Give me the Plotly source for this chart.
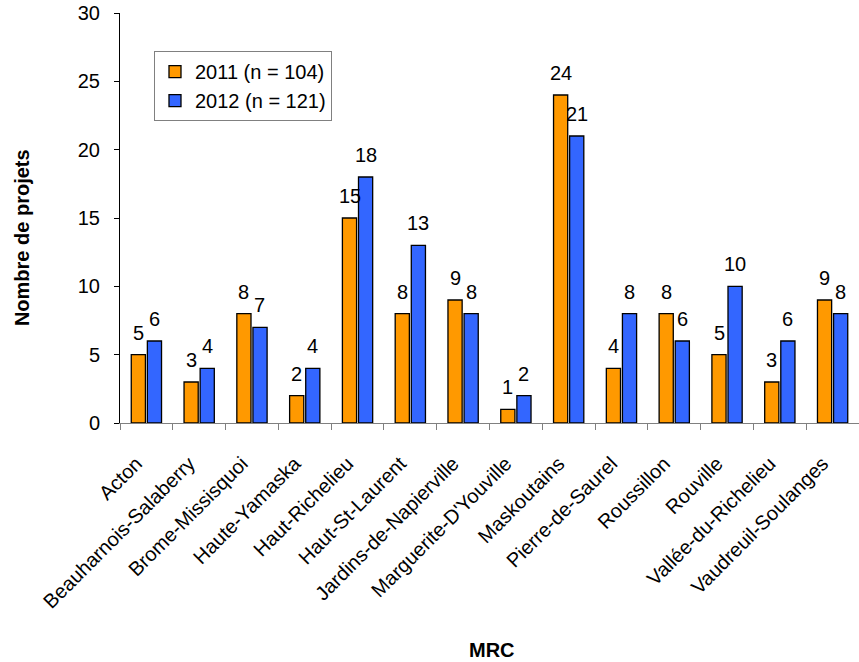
import plotly.graph_objects as go

categories = ["Acton", "Beauharnois-Salaberry", "Brome-Missisquoi", "Haute-Yamaska",
              "Haut-Richelieu", "Haut-St-Laurent", "Jardins-de-Napierville",
              "Marguerite-D'Youville", "Maskoutains", "Pierre-de-Saurel", "Roussillon",
              "Rouville", "Vallée-du-Richelieu", "Vaudreuil-Soulanges"]
values_2011 = [5, 3, 8, 2, 15, 8, 9, 1, 24, 4, 8, 5, 3, 9]
values_2012 = [6, 4, 7, 4, 18, 13, 8, 2, 21, 8, 6, 10, 6, 8]
series_names = ["2011 (n = 104)", "2012 (n = 121)"]
y_ticks = [0, 5, 10, 15, 20, 25, 30]

FONT = "Arial, Liberation Sans, sans-serif"

fig = go.Figure()
annotations = []
for name, vals, color, shift in [(series_names[0], values_2011, "#FF9900", -8),
                                 (series_names[1], values_2012, "#3366FF", 8)]:
    fig.add_trace(go.Bar(
        x=categories, y=vals, name=name,
        marker=dict(color=color, line=dict(color="#000000", width=1.3)),
    ))
    for c, v in zip(categories, vals):
        annotations.append(dict(
            x=c, y=v, xref="x", yref="y", text=str(v), showarrow=False,
            xanchor="center", yanchor="bottom", xshift=shift, yshift=9,
            font=dict(family=FONT, size=20, color="#000000"),
        ))

annotations += [
    dict(text="<b>MRC</b>", x=0.503, y=-0.553, xref="paper", yref="paper",
         xanchor="center", yanchor="middle",
         showarrow=False, font=dict(family=FONT, size=20, color="#000000")),
    dict(text="<b>Nombre de projets</b>", x=-0.1326, y=0.451, xref="paper", yref="paper",
         xanchor="center", yanchor="middle",
         textangle=-90, showarrow=False, font=dict(family=FONT, size=20, color="#000000")),
]

fig.update_layout(
    width=859, height=662,
    margin=dict(l=120, r=0, t=13, b=239),
    paper_bgcolor="white", plot_bgcolor="white",
    barmode="group", bargap=0.39, bargroupgap=0.12,
    font=dict(family=FONT, size=20, color="#000000"),
    showlegend=True,
    legend=dict(
        x=0.046, y=0.907, xanchor="left", yanchor="top",
        bgcolor="white", bordercolor="#808080", borderwidth=1,
        font=dict(family=FONT, size=20, color="#000000"),
        itemwidth=30, tracegroupgap=0,
    ),
    xaxis=dict(
        type="category", tickson="boundaries", ticks="outside", ticklen=6,
        tickcolor="#808080", showline=True, linecolor="#808080", linewidth=1,
        tickangle=-45, tickfont=dict(family=FONT, size=20, color="#000000"),
        showgrid=False, zeroline=False, ticklabelstandoff=20, ticklabelshift=-10,
    ),
    yaxis=dict(
        range=[0, 30], tickvals=y_ticks, ticks="outside", ticklen=5,
        tickcolor="#000000", showline=True, linecolor="#000000", linewidth=1,
        tickfont=dict(family=FONT, size=20, color="#000000"),
        showgrid=False, zeroline=False, ticklabelstandoff=10,
    ),
    annotations=annotations,
)

fig.write_html("out.html")
